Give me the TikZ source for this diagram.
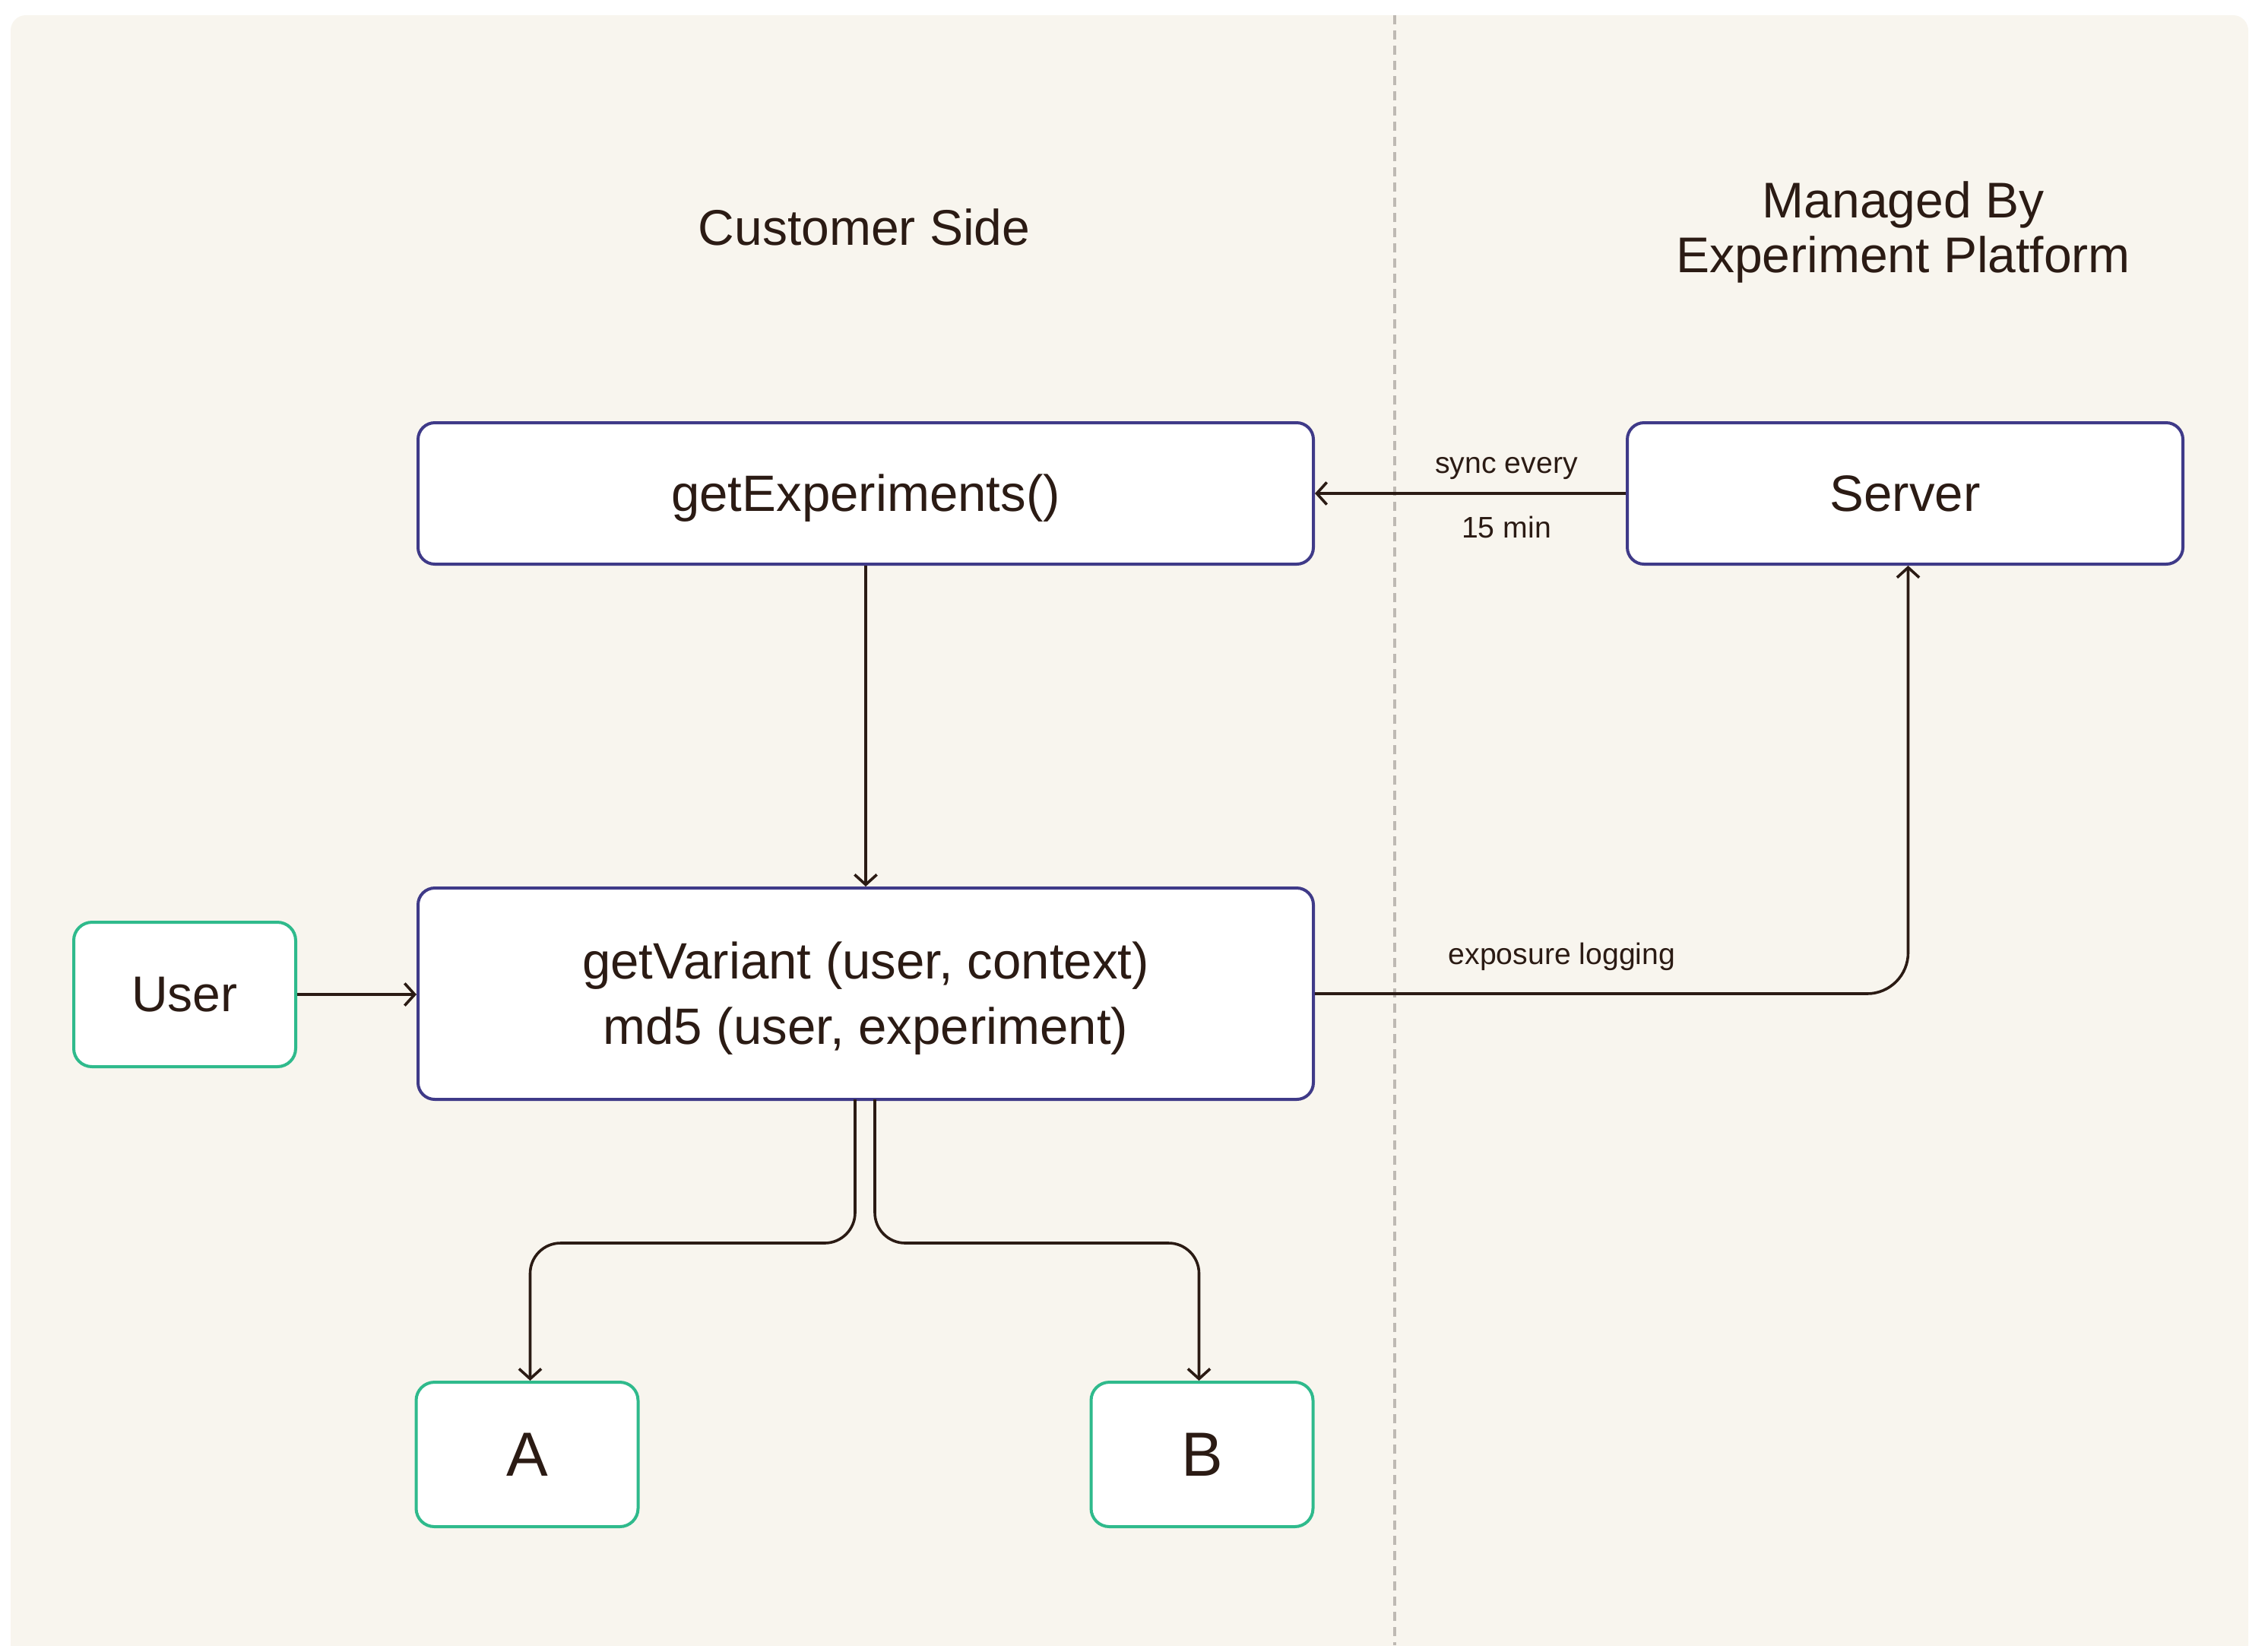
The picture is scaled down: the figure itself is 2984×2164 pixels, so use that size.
\documentclass[tikz,border=0pt]{standalone}
\usepackage{fontspec}
\setmainfont{Liberation Sans}
\usetikzlibrary{arrows.meta}
\definecolor{bgc}{HTML}{F8F5EE}
\definecolor{ink}{HTML}{2B1B14}
\definecolor{purp}{HTML}{3F3A88}
\definecolor{grn}{HTML}{2FBA8C}
\definecolor{dashc}{HTML}{BEB9B3}
\newcommand\lowr[1]{\raisebox{-1.5pt}[\height][\depth]{#1}}
\tikzset{
  pbox/.style={draw=purp, fill=white, line width=1pt, rounded corners=5.5pt, inner sep=0pt,
    text=ink, font=\fontsize{16.8}{21.5}\selectfont, align=center},
  gbox/.style={draw=grn, fill=white, line width=1pt, rounded corners=6pt, inner sep=0pt,
    text=ink, minimum width=73pt, minimum height=47.5pt},
  lbl/.style={text=ink, font=\fontsize{9.8}{12}\selectfont, inner sep=0pt},
  ttl/.style={text=ink, font=\fontsize{16.5}{18}\selectfont, align=center, inner sep=0pt},
  conn/.style={draw=ink, line width=0.9pt, -{Straight Barb[length=3.3pt,width=7.3pt]}}
}
\begin{document}
\begin{tikzpicture}[x=0.25pt,y=-0.25pt]
\useasboundingbox (0,0) rectangle (2984,2164);
\clip (0,0) rectangle (2984,2164);
\fill[bgc, rounded corners=5pt] (14,20) rectangle (2958,2184);
\draw[dashc, line width=1pt, dash pattern=on 3pt off 2pt] (1835,20) -- (1835,2164);

\node[ttl] (cust) at (1137,299) {Customer Side};
\node[ttl] (mgd) at (2504,305) {Managed By\\Experiment Platform};

\node[pbox, minimum width=294.5pt, minimum height=46.5pt] (gexp) at (1139,649) {\lowr{getExperiments()}};
\node[pbox, minimum width=182.75pt, minimum height=46.5pt] (srv) at (2506.5,649) {Server};
\node[pbox, minimum width=294.5pt, minimum height=69.5pt] (gv) at (1139,1307) {\lowr{getVariant (user, context)}\\\lowr{md5 (user, experiment)}};
\node[gbox, font=\fontsize{16.5}{20}\selectfont] (usr) at (243,1308) {User};
\node[gbox, font=\fontsize{20.5}{24}\selectfont] (na) at (693.5,1913) {A};
\node[gbox, font=\fontsize{20.5}{24}\selectfont] (nb) at (1581.5,1913) {B};

\draw[conn] (srv.west) -- (gexp.east);
\node[lbl] (sync1) at (1982,616) {sync every};
\node[lbl] (sync2) at (1982,693) {15 min};

\draw[conn] (gexp.south) -- (gv.north);
\draw[conn] (usr.east) -- (gv.west |- usr.east);

\coordinate (srvin) at ([xshift=1pt]srv.south);
\draw[conn, rounded corners=13.5pt] (gv.east) -| (srvin);
\node[lbl] (expo) at (2055,1258) {exposure logging};

\coordinate (ga) at (1125,1446);
\coordinate (gb) at (1151,1446);
\coordinate (mid) at (0,1635);
\coordinate (ina) at ([xshift=1pt]na.north);
\coordinate (inb) at ([xshift=-1pt]nb.north);
\draw[conn, rounded corners=10pt] (ga) -- (ga |- mid) -- (ina |- mid) -- (ina);
\draw[conn, rounded corners=10pt] (gb) -- (gb |- mid) -- (inb |- mid) -- (inb);
\end{tikzpicture}
\end{document}
